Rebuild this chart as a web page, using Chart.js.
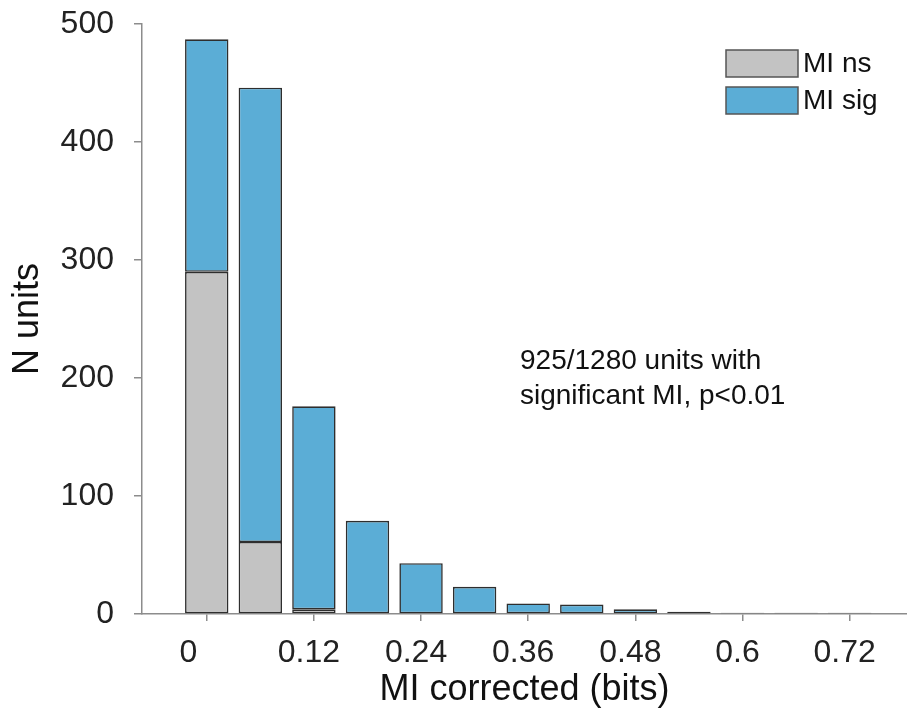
<!DOCTYPE html>
<html>
<head>
<meta charset="utf-8">
<script src="https://cdn.jsdelivr.net/npm/chart.js@4.4.1/dist/chart.umd.min.js"></script>
<style>
  html, body { margin: 0; padding: 0; background: #ffffff; }
  #wrap { width: 907px; height: 717px; position: relative; }
</style>
</head>
<body>
<div id="wrap"><canvas id="c" width="907" height="717"></canvas></div>
<script>
// ---- data ----
const binCenters = [0, 0.06, 0.12, 0.18, 0.24, 0.30, 0.36, 0.42, 0.48, 0.54, 0.60, 0.66, 0.72];
const miNs  = [290, 61, 4, 0, 0, 0, 0, 0, 0, 0, 0, 0, 0];
const miSig = [197, 385, 172, 79, 43, 23, 9, 8, 4, 2, 1, 1, 1];
const xTickValues = [0, 0.12, 0.24, 0.36, 0.48, 0.6, 0.72];
const xTickLabels = ['0   ', '0.12', '0.24', '0.36', '0.48', '0.6', '0.72'];
const seriesNames = ['MI ns', 'MI sig'];
const annotationLines = ['925/1280 units with', 'significant MI, p<0.01'];
const xTitle = 'MI corrected (bits)';
const yTitle = 'N units';

const FONT = "'Liberation Sans', Arial, Helvetica, sans-serif";
const GRAY = '#c3c3c3';
const BLUE = '#5badd6';
const EDGE = '#2e2e2e';
const AXIS = '#8c8c8c';

const legendPlugin = {
  id: 'customLegend',
  afterDraw(chart) {
    const ctx = chart.ctx;
    ctx.save();
    const x0 = 726, w = 72, h = 27, ys = [50, 87];
    chart.data.datasets.forEach((ds, i) => {
      ctx.fillStyle = ds.backgroundColor;
      ctx.fillRect(x0, ys[i], w, h);
      ctx.strokeStyle = '#555';
      ctx.lineWidth = 1.5;
      ctx.strokeRect(x0, ys[i], w, h);
      ctx.fillStyle = '#111';
      ctx.font = '28px ' + FONT;
      ctx.textBaseline = 'middle';
      ctx.textAlign = 'left';
      ctx.fillText(ds.label, x0 + w + 5, ys[i] + h / 2 + 1);
    });
    ctx.restore();
  }
};

const annotationPlugin = {
  id: 'annot',
  afterDraw(chart) {
    const ctx = chart.ctx;
    ctx.save();
    ctx.fillStyle = '#111';
    ctx.font = '28px ' + FONT;
    ctx.textBaseline = 'alphabetic';
    ctx.textAlign = 'left';
    annotationLines.forEach((t, i) => ctx.fillText(t, 520, 369 + i * 35));
    ctx.restore();
  }
};

new Chart(document.getElementById('c'), {
  type: 'bar',
  data: {
    labels: binCenters,
    datasets: [
      {
        label: seriesNames[0],
        data: binCenters.map((x, i) => ({ x: x, y: miNs[i] })),
        backgroundColor: GRAY,
        borderColor: EDGE,
        borderWidth: 1.6,
        borderSkipped: false,
        barPercentage: 0.81,
        categoryPercentage: 1.0
      },
      {
        label: seriesNames[1],
        data: binCenters.map((x, i) => ({ x: x, y: miSig[i] })),
        backgroundColor: BLUE,
        borderColor: EDGE,
        borderWidth: 1.6,
        borderSkipped: false,
        barPercentage: 0.81,
        categoryPercentage: 1.0
      }
    ]
  },
  options: {
    responsive: false,
    animation: false,
    devicePixelRatio: 1,
    layout: { autoPadding: false, padding: { top: 24, right: 0, left: 0, bottom: 0 } },
    plugins: {
      legend: { display: false },
      tooltip: { enabled: false },
      title: { display: false }
    },
    scales: {
      x: {
        type: 'linear',
        stacked: true,
        offset: false,
        min: -0.0725,
        max: 0.7842,
        afterBuildTicks(scale) {
          scale.ticks = xTickValues.map(v => ({ value: v }));
        },
        afterFit(scale) {
          scale.height = 103;
          scale.paddingLeft = 0; scale.paddingRight = 0;
        },
        ticks: {
          includeBounds: false,
          autoSkip: false,
          maxRotation: 0,
          padding: 13,
          labelOffset: -5,
          color: '#222',
          font: { family: FONT, size: 32 },
          callback(value) {
            const idx = xTickValues.findIndex(v => Math.abs(v - value) < 1e-6);
            return idx >= 0 ? xTickLabels[idx] : '';
          }
        },
        grid: {
          offset: false,
          drawOnChartArea: false,
          drawTicks: true,
          tickLength: 7,
          color: AXIS,
          lineWidth: 1.5
        },
        border: { display: true, color: AXIS, width: 1.5 },
        title: {
          display: true,
          text: xTitle,
          color: '#111',
          font: { family: FONT, size: 36 },
          padding: { top: 0, bottom: 5 }
        }
      },
      y: {
        stacked: true,
        min: 0,
        max: 500,
        afterFit(scale) {
          scale.width = 142;
          scale.paddingTop = 0; scale.paddingBottom = 0;
        },
        ticks: {
          stepSize: 100,
          padding: 20,
          color: '#222',
          font: { family: FONT, size: 32 }
        },
        grid: {
          drawOnChartArea: false,
          drawTicks: true,
          tickLength: 8,
          color: AXIS,
          lineWidth: 1.5
        },
        border: { display: true, color: AXIS, width: 1.5 },
        title: {
          display: true,
          text: yTitle,
          color: '#111',
          font: { family: FONT, size: 36 },
          padding: { top: 6, bottom: 0 }
        }
      }
    }
  },
  plugins: [legendPlugin, annotationPlugin]
});
</script>
</body>
</html>
